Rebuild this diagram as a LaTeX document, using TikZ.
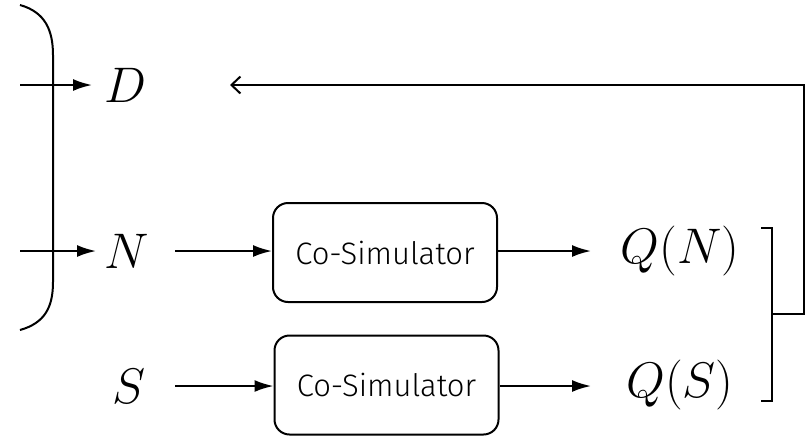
\RequirePackage{fix-cm}
\documentclass[tikz,border=0pt]{standalone}
\usepackage{fontspec}
\newfontfamily\boxfont{Fira Sans Light}
\usetikzlibrary{arrows.meta}
\tikzset{
  line/.style={line width=2pt},
  flow/.style={line, -{Latex[length=19pt,width=12pt]}},
  back/.style={line, -{Straight Barb[length=9pt,width=17pt,line width=2pt]}},
  sym/.style={inner sep=0pt, font=\fontsize{50}{56}\selectfont},
  sim/.style={draw, line width=2pt, rounded corners=15pt, minimum width=224pt,
    minimum height=99pt, inner sep=0pt, font=\boxfont\fontsize{31}{36}\selectfont}
}
\begin{document}
\begin{tikzpicture}[x=1pt,y=-1pt]
\useasboundingbox (0,0) rectangle (811,437);
% input symbols
\node[sym] (D) at (126,85) {$D$};
\node[sym] (N) at (127,251) {$N$};
\node[sym] (S) at (129,386) {$S$};
% co-simulators
\node[sim] (sim1) at (385,252.5) {Co-Simulator};
\node[sim] (sim2) at (386.5,385) {Co-Simulator};
% outputs
\node[sym] (QN) at (680,251) {$Q(N)$};
\node[sym] (QS) at (680,385) {$Q(S)$};
% enclosing parenthesis on the left
\draw[line] (20,5) .. controls (45,12) and (53,30) .. (53,55) -- (53,282)
  .. controls (53,307) and (45,323) .. (20,330);
\coordinate (inD) at (20,85);
\coordinate (inN) at (20,251);
\coordinate (outN) at (175,251);
\coordinate (outS) at (175,386);
\coordinate (endN) at (591,251);
\coordinate (endS) at (591,386);
\draw[flow] (inD) -- (92,85);
\draw[flow] (inN) -- (96,251);
% forward paths
\draw[flow] (outN) -- (sim1.west |- outN);
\draw[flow] (outS) -- (sim2.west |- outS);
\draw[flow] (sim1.east |- endN) -- (endN);
\draw[flow] (sim2.east |- endS) -- (endS);
% output bracket and feedback line
\draw[line] (761,228) -- (772,228) -- (772,401) -- (761,401);
\coordinate (mid) at (772,314);
\coordinate (corner) at (804,85);
\coordinate (fbend) at (230,85);
\draw[back] (mid) -- (804,314) -- (corner) -- (fbend);
\end{tikzpicture}
\end{document}
